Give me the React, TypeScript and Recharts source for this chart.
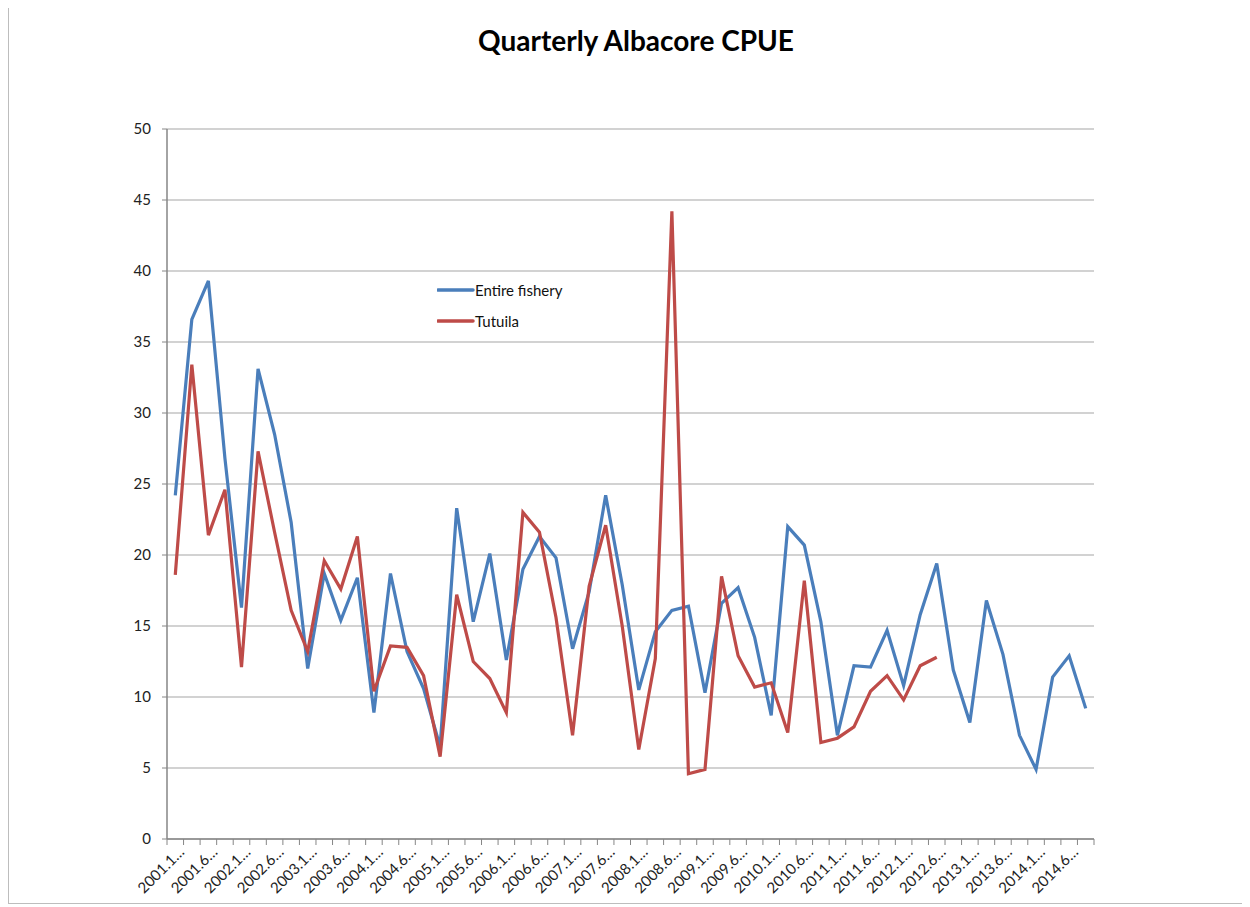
import { CartesianGrid, Legend, Line, LineChart, XAxis, YAxis } from "recharts";

const quarters = [
  "2001.125", "2001.375", "2001.625", "2001.875",
  "2002.125", "2002.375", "2002.625", "2002.875",
  "2003.125", "2003.375", "2003.625", "2003.875",
  "2004.125", "2004.375", "2004.625", "2004.875",
  "2005.125", "2005.375", "2005.625", "2005.875",
  "2006.125", "2006.375", "2006.625", "2006.875",
  "2007.125", "2007.375", "2007.625", "2007.875",
  "2008.125", "2008.375", "2008.625", "2008.875",
  "2009.125", "2009.375", "2009.625", "2009.875",
  "2010.125", "2010.375", "2010.625", "2010.875",
  "2011.125", "2011.375", "2011.625", "2011.875",
  "2012.125", "2012.375", "2012.625", "2012.875",
  "2013.125", "2013.375", "2013.625", "2013.875",
  "2014.125", "2014.375", "2014.625", "2014.875",
];

const entireFishery = [
  24.2, 36.6, 39.3, 26.8, 16.3, 33.1, 28.5, 22.3,
  12.0, 18.7, 15.4, 18.4, 8.9, 18.7, 13.2, 10.6,
  6.5, 23.3, 15.3, 20.1, 12.6, 19.0, 21.3, 19.8,
  13.4, 17.4, 24.2, 17.9, 10.5, 14.6, 16.1, 16.4,
  10.3, 16.6, 17.7, 14.2, 8.7, 22.0, 20.7, 15.3,
  7.3, 12.2, 12.1, 14.7, 10.8, 15.8, 19.4, 11.9,
  8.2, 16.8, 13.0, 7.3, 4.9, 11.4, 12.9, 9.2,
];

const tutuila = [
  18.6, 33.4, 21.4, 24.6, 12.1, 27.3, 21.6, 16.1,
  13.2, 19.6, 17.6, 21.3, 10.4, 13.6, 13.5, 11.5,
  5.8, 17.2, 12.5, 11.3, 8.9, 23.0, 21.6, 15.6,
  7.3, 17.8, 22.1, 15.0, 6.3, 12.7, 44.2, 4.6,
  4.9, 18.5, 12.9, 10.7, 11.0, 7.5, 18.2, 6.8,
  7.1, 7.9, 10.4, 11.5, 9.8, 12.2, 12.8,
];

const yTicks = [0, 5, 10, 15, 20, 25, 30, 35, 40, 45, 50];

const seriesNames = { entire: "Entire fishery", tutuila: "Tutuila" };

const data = quarters.map((q, i) => ({
  quarter: q,
  entire: entireFishery[i],
  tutuila: i < tutuila.length ? tutuila[i] : null,
}));

const FONT = "Lato, 'Open Sans', sans-serif";
const CHART_W = 1234;
const CHART_H = 895;
const margin = { top: 121, right: 149, bottom: 4, left: 98 };
const Y_W = 60;
const step = (CHART_W - margin.left - Y_W - margin.right) / quarters.length;

function QuarterTick(props: any) {
  const { x, y, payload, index } = props;
  const label = index % 2 === 0 ? String(payload.value).slice(0, 6) + "…" : "";
  return (
    <g>
      <line x1={x - step / 2} x2={x - step / 2} y1={y} y2={y + 6} stroke="#868686" />
      {index === quarters.length - 1 && (
        <line x1={x + step / 2} x2={x + step / 2} y1={y} y2={y + 6} stroke="#868686" />
      )}
      {label && (
        <text
          x={x + 10}
          y={y + 14}
          textAnchor="end"
          fontSize={15}
          fontFamily={FONT}
          fill="#222"
          transform={`rotate(-45, ${x + 10}, ${y + 14})`}
        >
          {label}
        </text>
      )}
    </g>
  );
}

function LegendBox(props: any) {
  const { payload } = props;
  return (
    <div style={{ fontFamily: FONT, fontSize: 15, color: "#111" }}>
      {payload.map((p: any) => (
        <div key={p.value} style={{ display: "flex", alignItems: "center", height: 31 }}>
          <svg width={38} height={6}>
            <line x1={1} x2={36} y1={3} y2={3} stroke={p.color} strokeWidth={3.5} strokeLinecap="round" />
          </svg>
          <span>{seriesNames[p.dataKey as "entire" | "tutuila"]}</span>
        </div>
      ))}
    </div>
  );
}

export default function App() {
  return (
    <div
      style={{
        position: "relative",
        width: CHART_W,
        height: CHART_H,
        borderLeft: "1px solid #bdbdbd",
        borderBottom: "1px solid #bdbdbd",
        background: "#fff",
      }}
    >
      <div
        style={{
          position: "absolute",
          top: 16,
          left: 10,
          width: CHART_W,
          textAlign: "center",
          fontFamily: FONT,
          fontWeight: 700,
          fontSize: 28,
          lineHeight: "32px",
          color: "#000",
        }}
      >
        Quarterly Albacore CPUE
      </div>
      <LineChart width={CHART_W} height={CHART_H} data={data} margin={margin}>
        <CartesianGrid vertical={false} stroke="#a6a6a6" strokeWidth={1.2} />
        <XAxis
          dataKey="quarter"
          interval={0}
          tickSize={0}
          tickMargin={0}
          tickLine={false}
          height={60}
          padding={{ left: step / 2, right: step / 2 }}
          axisLine={{ stroke: "#868686", strokeWidth: 1.5 }}
          tick={<QuarterTick />}
        />
        <YAxis
          width={Y_W}
          domain={[0, 50]}
          ticks={yTicks}
          interval={0}
          tickSize={5}
          tickMargin={11}
          axisLine={{ stroke: "#868686", strokeWidth: 1.5 }}
          tickLine={{ stroke: "#868686" }}
          tick={{ fontSize: 15, fontFamily: FONT, fill: "#222" }}
        />
        <Legend
          layout="vertical"
          verticalAlign="middle"
          align="center"
          content={<LegendBox />}
          wrapperStyle={{ left: 428, top: 266, width: 180 }}
        />
        <Line
          dataKey="entire"
          name="Entire fishery"
          stroke="#4a7ebb"
          strokeWidth={3.2}
          dot={false}
          isAnimationActive={false}
        />
        <Line
          dataKey="tutuila"
          name="Tutuila"
          stroke="#be4b48"
          strokeWidth={3.2}
          dot={false}
          isAnimationActive={false}
        />
      </LineChart>
    </div>
  );
}
